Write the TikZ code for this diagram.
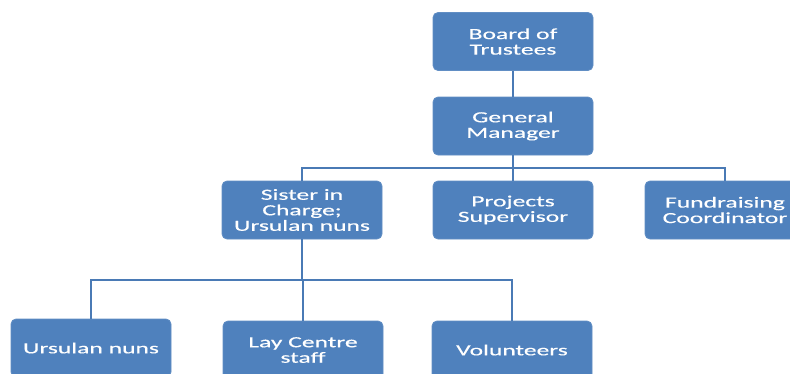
\documentclass[tikz,border=0pt]{standalone}
\usepackage{fontspec}
\setmainfont[FakeStretch=1.65,FakeBold=0.4]{Carlito}
\definecolor{boxblue}{HTML}{4F81BD}
\definecolor{lineblue}{HTML}{4A7AB5}
\begin{document}
\begin{tikzpicture}[x=1pt,y=-1pt,
  orgbox/.style={draw=boxblue!90!white, line width=0.8pt, fill=boxblue, rounded corners=5pt,
    minimum width=160pt, minimum height=58pt, inner sep=0pt, align=center,
    text=white, font=\fontsize{15.5}{15.5}\selectfont},
  link/.style={draw=lineblue, line width=2.8pt}]
\useasboundingbox (0,0) rectangle (790,373);
\clip (0,0) rectangle (790,373);
\fill[white] (0,0) rectangle (790,373);
\node[orgbox] (board) at (513,41.5) {Board of\\Trustees};
\node[orgbox] (gm) at (513,126) {General\\Manager};
\node[orgbox] (sister) at (302,210) {Sister in\\Charge;\\Ursulan nuns};
\node[orgbox] (proj) at (513,210) {Projects\\Supervisor};
\node[orgbox] (fund) at (725,210) {Fundraising\\Coordinator};
\node[orgbox] (nuns) at (91,348) {Ursulan nuns};
\node[orgbox] (lay) at (303,350) {Lay Centre\\staff};
\node[orgbox] (vol) at (512,350) {Volunteers};
\coordinate (bus1) at (513,168);
\coordinate (bus2) at (302,280);
\draw[link] (board.south) -- (gm.north);
\draw[link] (gm.south) -- (bus1);
\draw[link] (sister.north) |- (bus1) -| (fund.north);
\draw[link] (proj.north) -- (proj.north |- bus1);
\draw[link] (sister.south) -- (bus2);
\draw[link] (nuns.north) |- (bus2) -| (vol.north);
\draw[link] (lay.north) -- (lay.north |- bus2);
\end{tikzpicture}
\end{document}
